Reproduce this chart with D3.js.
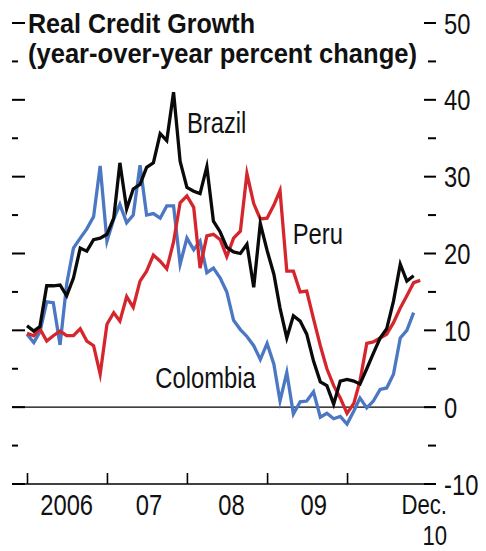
<!DOCTYPE html>
<html>
<head>
<meta charset="utf-8">
<script src="https://cdn.jsdelivr.net/npm/d3@7/dist/d3.min.js"></script>
<style>
  html, body { margin: 0; padding: 0; background: #fff; }
  svg { display: block; }
  text { font-family: "Liberation Sans", Arial, Helvetica, sans-serif; }
</style>
</head>
<body>
<svg id="chart" width="486" height="551"></svg>
<script>
// ---------- data (monthly, Jan 2006 – Dec 2010) ----------
const startYear = 2006;
const brazil = [
  10.6, 9.9, 10.5, 15.8, 15.8, 15.9, 14.5, 16.8, 20.7, 20.3, 21.8, 22.0,
  22.5, 24.6, 31.8, 25.8, 28.4, 29.0, 31.2, 31.8, 35.6, 34.7, 41.0, 32.0,
  28.6, 28.1, 27.8, 31.3, 24.2, 22.8, 20.8, 20.2, 20.0, 21.2, 15.6, 23.9,
  20.4, 17.3, 12.9, 9.0, 11.9, 11.2, 9.5, 6.0, 3.3, 2.8, 0.4, 3.4,
  3.6, 3.4, 3.0, 5.0, 7.0, 9.0, 10.2, 13.8, 18.6, 16.4, 17.1
];
const peru = [
  9.6, 9.3, 10.2, 8.6, 9.3, 9.9, 9.3, 9.3, 10.2, 8.6, 8.0, 4.3,
  10.8, 12.3, 11.2, 14.4, 13.0, 16.4, 17.7, 19.8, 19.0, 18.0, 21.5, 26.6,
  27.5, 26.0, 18.1, 22.3, 22.5, 21.8, 19.6, 22.0, 22.9, 30.4, 26.5, 24.5,
  24.6, 26.3, 28.2, 17.7, 17.7, 15.0, 15.1, 11.5, 8.0, 5.0, 2.8, 1.2,
  -0.8, 0.5, 3.4, 8.3, 8.5, 9.0, 9.5, 11.0, 12.9, 14.5, 16.2, 16.5
];
const colombia = [
  9.5, 8.4, 9.8, 13.7, 13.6, 8.1, 16.0, 20.7, 22.0, 23.2, 24.8, 31.4,
  21.6, 24.5, 26.4, 24.0, 25.0, 31.5, 25.0, 25.2, 24.6, 26.2, 26.2, 18.6,
  22.0, 20.5, 21.6, 17.5, 18.1, 16.8, 15.0, 11.3, 10.1, 9.2, 8.0, 6.2,
  8.3, 5.6, 0.8, 4.5, -0.9, 0.7, 0.8, 2.0, -1.3, -0.8, -1.5, -1.2,
  -2.2, -0.5, 1.2, -0.1, 0.8, 2.3, 2.5, 4.3, 9.0, 10.0, 12.3
];
const yearLabels = ["2006", "07", "08", "09"];
const lastLabel = ["Dec.", "10"];
const yTicks = d3.range(-10, 51, 5);
const titleLines = ["Real Credit Growth", "(year-over-year percent change)"];

// ---------- scales ----------
const svg = d3.select("#chart");
const x = d3.scaleTime()
  .domain([new Date(2006, 0, 1), new Date(2011, 0, 1)])
  .range([27, 427]);
const y = d3.scaleLinear().domain([-10, 50]).range([484, 23]);
const monthDate = i => new Date(startYear, i, 1);
const squeeze = 0.82; // emulate condensed face
const place = (px, py) => `translate(${px},${py}) scale(${squeeze},1)`;

// ---------- zero line ----------
svg.append("line")
  .attr("x1", 12).attr("x2", 435)
  .attr("y1", y(0)).attr("y2", y(0))
  .attr("stroke", "#000").attr("stroke-width", 1.1);

// ---------- left ticks ----------
const leftAxis = svg.append("g");
leftAxis.selectAll("line").data(yTicks).join("line")
  .attr("x1", 12)
  .attr("x2", d => d % 10 === 0 ? 25 : 18)
  .attr("y1", d => y(d)).attr("y2", d => y(d))
  .attr("stroke", "#000").attr("stroke-width", 2);

// ---------- right axis ----------
const rightAxis = svg.append("g");
rightAxis.selectAll("line").data(yTicks).join("line")
  .attr("x1", d => d % 10 === 0 ? 424 : 428)
  .attr("x2", 436)
  .attr("y1", d => y(d)).attr("y2", d => y(d))
  .attr("stroke", "#000").attr("stroke-width", 2);
rightAxis.selectAll("text").data(yTicks.filter(d => d % 10 === 0)).join("text")
  .attr("transform", d => place(444, y(d) + 10.5))
  .attr("font-size", 29)
  .attr("fill", "#111")
  .text(d => d);

// ---------- x axis ----------
const xAxisG = svg.append("g").attr("transform", `translate(0,${y(-10)})`);
xAxisG.call(
  d3.axisBottom(x)
    .tickValues(d3.range(2006, 2011).map(yr => new Date(yr, 0, 1)))
    .tickSize(-11)
    .tickFormat("")
);
xAxisG.select(".domain").remove();
xAxisG.selectAll(".tick line").attr("stroke", "#000").attr("stroke-width", 1.6);
xAxisG.append("line")
  .attr("x1", 12).attr("x2", 435).attr("y1", 0).attr("y2", 0)
  .attr("stroke", "#000").attr("stroke-width", 1.6);

svg.selectAll(".yearlab").data(yearLabels).join("text")
  .attr("class", "yearlab")
  .attr("transform", (d, i) => place(x(new Date(startYear + i, 6, 1)) + i * 2.3, 515))
  .attr("text-anchor", "middle")
  .attr("font-size", 29)
  .attr("fill", "#111")
  .text(d => d);
svg.selectAll(".declab").data(lastLabel).join("text")
  .attr("class", "declab")
  .attr("transform", (d, i) => place(447, i === 0 ? 514 : 545))
  .attr("text-anchor", "end")
  .attr("font-size", 27)
  .attr("fill", "#111")
  .text(d => d);

// ---------- lines ----------
const line = d3.line()
  .x((d, i) => x(monthDate(i)))
  .y(d => y(d));

const series = [
  { name: "Colombia", values: colombia, color: "#4b77c3" },
  { name: "Peru", values: peru, color: "#d6262d" },
  { name: "Brazil", values: brazil, color: "#0a0a0a" }
];
svg.selectAll(".series").data(series).join("path")
  .attr("class", "series")
  .attr("d", d => line(d.values))
  .attr("fill", "none")
  .attr("stroke", d => d.color)
  .attr("stroke-width", 3.3)
  .attr("stroke-linejoin", "miter")
  .attr("stroke-miterlimit", 6);

// ---------- series labels ----------
const labels = [
  { text: "Brazil", date: new Date(2008, 0, 1), value: 35.7 },
  { text: "Peru", date: new Date(2009, 3, 28), value: 21.3 },
  { text: "Colombia", date: new Date(2007, 7, 10), value: 2.5 }
];
svg.selectAll(".serlab").data(labels).join("text")
  .attr("class", "serlab")
  .attr("transform", d => place(x(d.date), y(d.value)))
  .attr("font-size", 29)
  .attr("fill", "#111")
  .text(d => d.text);

// ---------- title ----------
svg.selectAll(".title").data(titleLines).join("text")
  .attr("class", "title")
  .attr("x", 28)
  .attr("y", (d, i) => 33 + i * 30)
  .attr("font-size", 28)
  .attr("font-weight", "bold")
  .attr("fill", "#111")
  .attr("textLength", (d, i) => i === 0 ? 227 : 389)
  .attr("lengthAdjust", "spacingAndGlyphs")
  .text(d => d);
</script>
</body>
</html>
